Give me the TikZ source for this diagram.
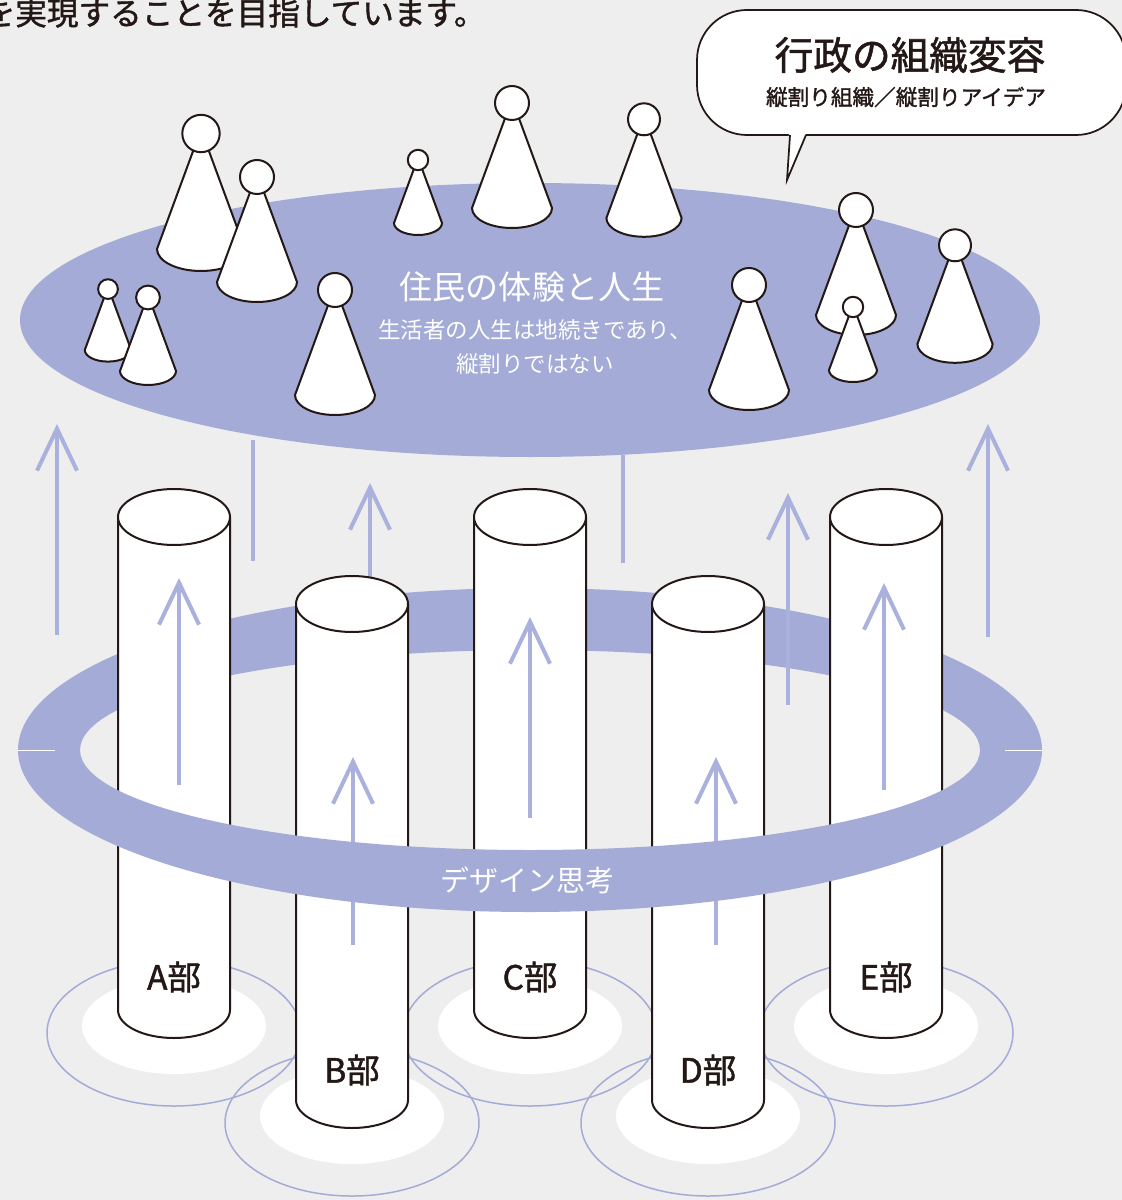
\documentclass[tikz,border=0pt]{standalone}
\usepackage{fontspec}
\setmainfont{Noto Sans CJK JP}
\newfontfamily\heavyjp{Noto Sans CJK JP}[FakeBold=1.4]
\usetikzlibrary{arrows.meta}
\definecolor{paper}{HTML}{EEEEEE}
\definecolor{lilac}{HTML}{A3ABD6}
\definecolor{lilacarrow}{HTML}{A9B1DC}
\definecolor{ink}{HTML}{231815}
\tikzset{
  uparr/.style={-{Straight Barb[length=8.4mm, width=8mm]}, line width=0.8mm, lilacarrow},
  hang/.style={line width=0.8mm, lilacarrow},
  pawnbody/.style={draw=ink, fill=white, line width=0.4mm},
  pillar/.style={draw=ink, fill=white, line width=0.4mm},
  pad/.style={fill=white},
  padring/.style={draw=lilac, line width=0.3mm},
  bubble/.style={draw=ink, fill=white, line width=0.35mm},
}
% one resident: base corner at (#1,#2), size #3
\newcommand{\pawn}[3]{%
  \begin{scope}[shift={(#1,#2)}, scale=#3]
    \filldraw[pawnbody] (-5,-95) -- (-40,0) arc[start angle=180, end angle=0, x radius=40, y radius=20] -- (5,-95) -- cycle;
    \filldraw[pawnbody] (0,-105) circle[radius=17];
  \end{scope}}

\begin{document}
\begin{tikzpicture}[x=0.2mm, y=-0.2mm,
    deptlabel/.style={text=ink, font=\heavyjp\fontsize{19pt}{22pt}\selectfont},
    onlilac/.style={text=white, align=center}]
  \fill[paper] (0,0) rectangle (1122,1200);
  \useasboundingbox (0,0) rectangle (1122,1200);

  % floor pads under each department
  \foreach \x/\y in {174/1026, 530/1026, 886/1026, 352/1116, 708/1116} {
    \fill[pad] (\x,\y) ellipse[x radius=92, y radius=48];
  }
  \foreach \x/\y in {174/1033, 530/1033, 886/1033, 352/1123, 708/1123} {
    \draw[padring] (\x,\y) ellipse[x radius=127, y radius=73];
  }

  % back half of the design ring
  \fill[lilac] (18,750) arc[start angle=180, end angle=360, x radius=512, y radius=162]
    -- (980,750) arc[start angle=0, end angle=-180, x radius=450, y radius=100] -- cycle;

  % arrows and lines passing behind the pillars
  \draw[hang] (253,440) -- (253,561);
  \draw[hang] (623,455) -- (623,563);
  \draw[uparr] (370,600) -- (370,483);
  \draw[uparr] (788,705) -- (788,493);

  % department pillars
  \foreach \x/\t/\b in {174/517/1010, 530/517/1010, 886/517/1010, 352/604/1100, 708/604/1100} {
    \filldraw[pillar] (\x-56,\t) -- (\x-56,\b) arc[start angle=180, end angle=0, x radius=56, y radius=28] -- (\x+56,\t);
    \filldraw[pillar] (\x,\t) ellipse[x radius=56, y radius=28];
  }

  % arrows inside the pillars
  \draw[uparr] (179,785) -- (179,578);
  \draw[uparr] (353,945) -- (353,757);
  \draw[uparr] (530,818) -- (530,617);
  \draw[uparr] (716,945) -- (716,757);
  \draw[uparr] (884,790) -- (884,583);

  % front half of the design ring
  \fill[lilac] (18,750) arc[start angle=180, end angle=0, x radius=512, y radius=162]
    -- (980,750) arc[start angle=0, end angle=180, x radius=450, y radius=100] -- cycle;
  \draw[white, line width=0.15mm] (18,750) -- (55,750);
  \draw[white, line width=0.15mm] (1005,750) -- (1042,750);
  \node[onlilac, font=\fontsize{16.5pt}{19pt}\selectfont] (design) at (527,880) {デザイン思考};

  \foreach \x/\y/\l in {174/977/A, 352/1070/B, 530/977/C, 708/1070/D, 886/977/E} {
    \node[deptlabel] (dept\l) at (\x,\y) {{\l}部};
  }

  % outer arrows
  \draw[uparr] (57,635) -- (57,424);
  \draw[uparr] (988,637) -- (988,424);

  % residents' plate
  \fill[lilac] (530,320) ellipse[x radius=510, y radius=137];
  \node[onlilac, font=\fontsize{18.8pt}{22pt}\selectfont] (life) at (532,287) {住民の体験と人生};
  \node[onlilac, font=\fontsize{12.8pt}{19.4pt}\selectfont] (lifenote) at (535,347) {生活者の人生は地続きであり、\\縦割りではない};

  \foreach \x/\y/\s in {512/208/1.0, 644/218/0.94, 418/223/0.6, 201/249/1.1, 257/282/1.0,
      856/315/1.0, 955/344/0.94, 108/350/0.58, 853/370/0.6, 148/371/0.7, 749/390/1.0, 335/395/1.0} {
    \pawn{\x}{\y}{\s}
  }

  % speech bubble with its tail
  \filldraw[bubble, rounded corners=10mm] (697,10) rectangle (1126,135);
  \fill[white] (789,131) -- (787,180) -- (807,131) -- cycle;
  \draw[bubble, fill=none] (790,135) -- (787,180) -- (806,135);
  \node[text=ink, font=\heavyjp\fontsize{22pt}{26pt}\selectfont] (orgtitle) at (910,55) {行政の組織変容};
  \node[text=ink, font=\heavyjp\fontsize{12.3pt}{15pt}\selectfont] (orgnote) at (906,97) {縦割り組織／縦割りアイデア};

  \node[anchor=east, inner sep=0pt, text=ink, font=\heavyjp\fontsize{18pt}{21pt}\selectfont] (lead) at (486,13) {を実現することを目指しています。};
\end{tikzpicture}
\end{document}
